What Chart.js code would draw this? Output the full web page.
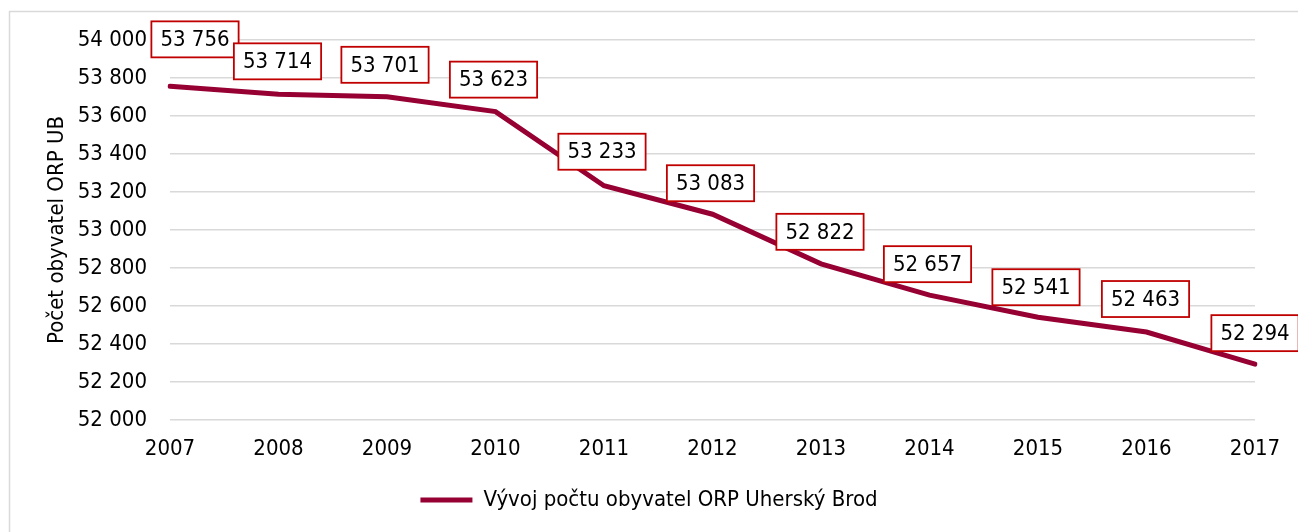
<!DOCTYPE html>
<html>
<head>
<meta charset="utf-8">
<script src="https://cdn.jsdelivr.net/npm/chart.js@4.4.0/dist/chart.umd.min.js"></script>
<style>
  body { margin: 0; background: #fff; }
  canvas { display: block; }
</style>
</head>
<body>
<canvas id="Chart" width="1298" height="532"></canvas>
<script>
// data
let years = ['2007', '2008', '2009', '2010', '2011', '2012', '2013', '2014', '2015', '2016', '2017'];
let population = [53756, 53714, 53701, 53623, 53233, 53083, 52822, 52657, 52541, 52463, 52294];
let yTicks = [52000, 52200, 52400, 52600, 52800, 53000, 53200, 53400, 53600, 53800, 54000];
let seriesName = 'Vývoj počtu obyvatel ORP Uherský Brod';
let axisTitle = 'Počet obyvatel ORP UB';

const FONT = "'DejaVu Sans Condensed', 'DejaVu Sans', sans-serif";
const FSIZE = 22;

function fmt(v) {
    return String(v).replace(/\B(?=(\d{3})+(?!\d))/g, ' ');
}

// light frame on left and top like the original
const framePlugin = {
    id: 'frame',
    beforeDraw(chart) {
        const ctx = chart.ctx;
        ctx.save();
        ctx.strokeStyle = '#d9d9d9';
        ctx.lineWidth = 1.5;
        ctx.beginPath();
        ctx.moveTo(9.5, 532);
        ctx.lineTo(9.5, 11.5);
        ctx.lineTo(1298, 11.5);
        ctx.stroke();
        ctx.restore();
    }
};

// value boxes above the points
const valueBoxes = {
    id: 'valueBoxes',
    afterDatasetsDraw(chart, args, opts) {
        const ctx = chart.ctx;
        const meta = chart.getDatasetMeta(0);
        const data = chart.data.datasets[0].data;
        ctx.save();
        ctx.font = FSIZE + 'px ' + FONT;
        ctx.textAlign = 'center';
        ctx.textBaseline = 'middle';
        meta.data.forEach(function(pt, i) {
            const off = opts.offsets[i] || [0, -32];
            const txt = fmt(data[i]);
            const w = ctx.measureText(txt).width + 18;
            const h = 36;
            const cx = pt.x + off[0];
            const cy = pt.y + off[1];
            ctx.fillStyle = '#ffffff';
            ctx.fillRect(cx - w / 2, cy - h / 2, w, h);
            ctx.strokeStyle = '#c00000';
            ctx.lineWidth = 1.8;
            ctx.strokeRect(cx - w / 2, cy - h / 2, w, h);
            ctx.fillStyle = '#000000';
            ctx.fillText(txt, cx, cy + 1);
        });
        ctx.restore();
    }
};

let chartdata = {
    labels: years,
    datasets: [{
        label: seriesName,
        data: population,
        borderColor: '#960032',
        backgroundColor: '#960032',
        borderWidth: 5,
        borderCapStyle: 'round',
        pointRadius: 0,
        tension: 0
    }]
};

new Chart(document.getElementById('Chart'), {
    type: 'line',
    data: chartdata,
    plugins: [framePlugin, valueBoxes],
    options: {
        responsive: false,
        animation: false,
        layout: { padding: { left: 43, right: 43, top: 40, bottom: 11 } },
        plugins: {
            tooltip: { enabled: false },
            legend: {
                position: 'bottom',
                labels: {
                    usePointStyle: true,
                    pointStyle: 'line',
                    pointStyleWidth: 52,
                    padding: 10,
                    color: '#000',
                    font: { family: FONT, size: FSIZE }
                }
            },
            valueBoxes: {
                offsets: [[25, -47], [-1, -33], [-2, -32], [-2, -32], [-2, -34], [-2, -31],
                          [-1, -32], [-2, -31], [-2, -30], [-1, -33], [0, -31]]
            }
        },
        scales: {
            x: {
                offset: false,
                grid: { display: false },
                border: { display: false },
                ticks: { color: '#000', padding: 8, maxRotation: 0, font: { family: FONT, size: FSIZE } },
                afterFit(scale) { scale.height = 59; }
            },
            y: {
                min: 52000,
                max: 54000,
                afterBuildTicks(scale) { scale.ticks = yTicks.map(v => ({ value: v })); },
                grid: { color: '#d9d9d9', lineWidth: 1.5, drawTicks: false },
                border: { display: false },
                ticks: {
                    color: '#000',
                    padding: 23,
                    font: { family: FONT, size: FSIZE },
                    callback: v => fmt(v)
                },
                title: {
                    display: true,
                    text: axisTitle,
                    color: '#000',
                    padding: { top: 1, bottom: 0 },
                    font: { family: FONT, size: FSIZE }
                },
                afterFit(scale) { scale.width = 127; }
            }
        }
    }
});
</script>
</body>
</html>
